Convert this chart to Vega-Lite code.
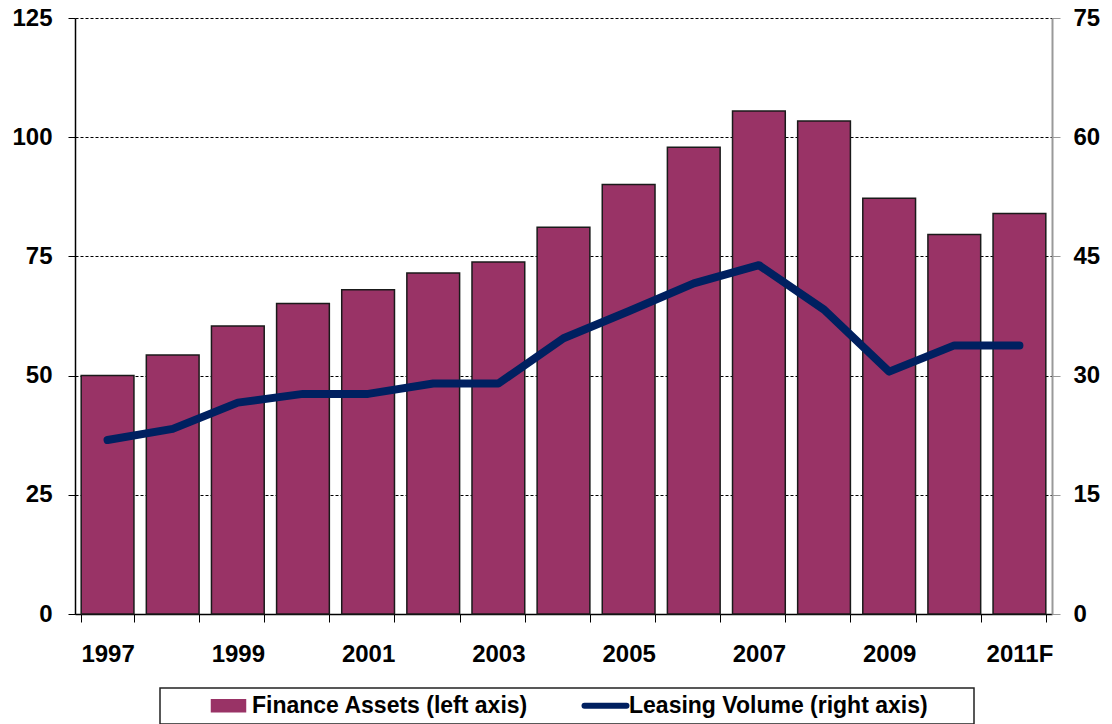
{
  "$schema": "https://vega.github.io/schema/vega-lite/v6.json",
  "width": 977,
  "height": 596,
  "autosize": "none",
  "padding": {"left": 75, "top": 18, "right": 60, "bottom": 110},
  "background": "white",
  "config": {
    "view": {"stroke": null},
    "font": "Liberation Sans",
    "axis": {
      "labelFont": "Liberation Sans",
      "labelFontSize": 24,
      "labelFontWeight": "bold",
      "labelColor": "#000",
      "title": null
    },
    "legend": {
      "orient": "none",
      "legendX": 85,
      "legendY": 670,
      "direction": "horizontal",
      "strokeColor": "#222",
      "padding": 6,
      "symbolSize": 484,
      "symbolOffset": 51,
      "labelOffset": 12,
      "columnPadding": 14,
      "labelFont": "Liberation Sans",
      "labelFontSize": 23,
      "labelFontWeight": "bold",
      "labelColor": "#000",
      "labelLimit": 0
    }
  },
  "data": {
    "values": [
      {"year": "1997", "assets": 50.0, "volume": 21.9},
      {"year": "1998", "assets": 54.3, "volume": 23.3},
      {"year": "1999", "assets": 60.4, "volume": 26.6},
      {"year": "2000", "assets": 65.1, "volume": 27.7},
      {"year": "2001", "assets": 68.0, "volume": 27.7},
      {"year": "2002", "assets": 71.5, "volume": 29.0},
      {"year": "2003", "assets": 73.8, "volume": 29.0},
      {"year": "2004", "assets": 81.1, "volume": 34.7},
      {"year": "2005", "assets": 90.1, "volume": 38.1},
      {"year": "2006", "assets": 97.9, "volume": 41.6},
      {"year": "2007", "assets": 105.5, "volume": 43.9},
      {"year": "2008", "assets": 103.4, "volume": 38.3},
      {"year": "2009", "assets": 87.2, "volume": 30.5},
      {"year": "2010", "assets": 79.6, "volume": 33.8},
      {"year": "2011F", "assets": 84.0, "volume": 33.8}
    ]
  },
  "encoding": {
    "x": {
      "field": "year",
      "type": "ordinal",
      "sort": null,
      "scale": {"paddingInner": 0.19, "paddingOuter": 0.095},
      "axis": {
        "labelAngle": 0,
        "tickBand": "extent",
        "tickSize": 8,
        "tickColor": "#000",
        "domainColor": "#000",
        "domainWidth": 1.5,
        "labelPadding": 20,
        "labelExpr": "parseInt(datum.value) % 2 == 1 ? datum.label : ''"
      }
    }
  },
  "layer": [
    {
      "mark": {"type": "bar", "stroke": "#1a1a1a", "strokeWidth": 1.5},
      "encoding": {
        "y": {
          "field": "assets",
          "type": "quantitative",
          "scale": {"domain": [0, 125], "nice": false},
          "axis": {
            "values": [0, 25, 50, 75, 100, 125],
            "grid": true,
            "gridColor": "#000",
            "gridDash": [3, 2],
            "gridWidth": 1,
            "tickSize": 7,
            "tickColor": "#000",
            "domainColor": "#000",
            "domainWidth": 1.5,
            "labelPadding": 16
          }
        },
        "color": {
          "datum": "Finance Assets (left axis)",
          "scale": {
            "domain": ["Finance Assets (left axis)", "Leasing Volume (right axis)"],
            "range": ["#993366", "#002060"]
          },
          "legend": {
            "title": null,
            "encode": {
              "legend": {"update": {"strokeWidth": {"value": 1.5}}},
              "symbols": {
                "update": {
                  "shape": {"signal": "datum.label == 'Finance Assets (left axis)' ? 'M-1.545,-0.545H1.545V0.545H-1.545Z' : 'M-1.909,0H1.909M31.8,0'"},
                  "fill": {"signal": "datum.label == 'Finance Assets (left axis)' ? '#993366' : 'transparent'"},
                  "stroke": {"signal": "datum.label == 'Finance Assets (left axis)' ? '#1a1a1a' : '#002060'"},
                  "strokeWidth": {"signal": "datum.label == 'Finance Assets (left axis)' ? 1.5 : 6"},
                  "strokeCap": {"value": "round"},
                  "opacity": {"value": 1}
                }
              }
            }
          }
        }
      }
    },
    {
      "mark": {"type": "line", "strokeWidth": 8, "strokeCap": "round", "strokeJoin": "round"},
      "encoding": {
        "y": {
          "field": "volume",
          "type": "quantitative",
          "scale": {"domain": [0, 75], "nice": false},
          "axis": {
            "orient": "right",
            "values": [0, 15, 30, 45, 60, 75],
            "grid": false,
            "tickSize": 8,
            "tickColor": "#999",
            "domainColor": "#999",
            "domainWidth": 2,
            "labelPadding": 13
          }
        },
        "color": {
          "datum": "Leasing Volume (right axis)",
          "legend": {
            "title": null,
            "encode": {
              "legend": {"update": {"strokeWidth": {"value": 1.5}}},
              "symbols": {
                "update": {
                  "shape": {"signal": "datum.label == 'Finance Assets (left axis)' ? 'M-1.545,-0.545H1.545V0.545H-1.545Z' : 'M-1.909,0H1.909M31.8,0'"},
                  "fill": {"signal": "datum.label == 'Finance Assets (left axis)' ? '#993366' : 'transparent'"},
                  "stroke": {"signal": "datum.label == 'Finance Assets (left axis)' ? '#1a1a1a' : '#002060'"},
                  "strokeWidth": {"signal": "datum.label == 'Finance Assets (left axis)' ? 1.5 : 6"},
                  "strokeCap": {"value": "round"},
                  "opacity": {"value": 1}
                }
              }
            }
          }
        }
      }
    }
  ],
  "resolve": {"scale": {"y": "independent"}}
}
